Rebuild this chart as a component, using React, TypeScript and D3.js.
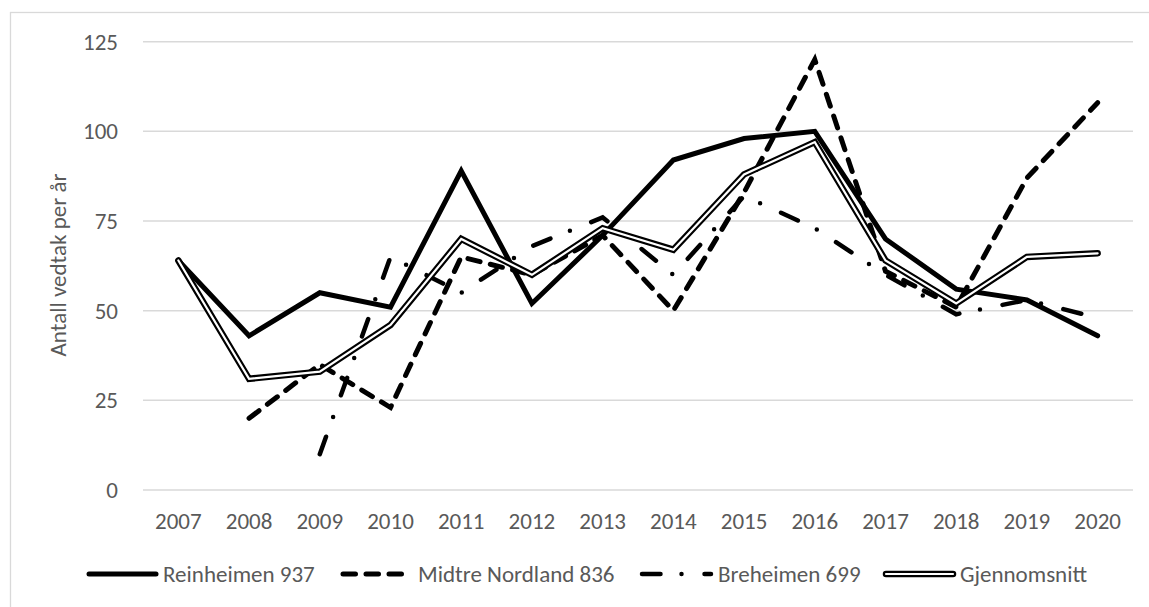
import React from 'react';
import * as d3 from 'd3';

// chart data
const years = ['2007', '2008', '2009', '2010', '2011', '2012', '2013', '2014', '2015', '2016', '2017', '2018', '2019', '2020'];
const reinheimen = [64, 43, 55, 51, 89, 52, 71, 92, 98, 100, 70, 56, 53, 43];
const midtreNordland = [null, 20, 35, 23, 65, 60, 71, 50, 83, 120, 61, 51, 87, 108];
const breheimen = [null, null, 10, 65, 55, 68, 76, 60, 82, 73, 60, 49, 53, 48];
const gjennomsnitt = [64, 31, 33, 46, 70, 60, 73, 67, 88, 97, 64, 52, 65, 66];
const yTicks = [0, 25, 50, 75, 100, 125];
const seriesNames = ['Reinheimen 937', 'Midtre Nordland 836', 'Breheimen 699', 'Gjennomsnitt'];
const yTitle = 'Antall vedtak per år';

const FONT = 'Carlito, Calibri, Lato, sans-serif';
const TEXT = '#595959';
const GRID = '#d9d9d9';
const FS = 23;

// line styles per series
const styles = [
  { kind: 'solid', width: 5, dash: null },
  { kind: 'solid', width: 5, dash: '12.5,10.5' },
  { kind: 'solid', width: 4.5, dash: '18.5,21,0,23' },
  { kind: 'double', width: 6.5, dash: null },
];

function App() {
  const width = 1149;
  const height = 607;

  const x = d3.scaleBand<string>().domain(years).range([143, 1133]);
  const y = d3.scaleLinear().domain([0, 125]).range([490, 41.7]);

  const data = [reinheimen, midtreNordland, breheimen, gjennomsnitt];

  const line = d3.line<number | null>()
    .defined(d => d != null)
    .x((d, i) => (x(years[i]) as number) + x.bandwidth() / 2)
    .y(d => y(d as number));

  const paths = data.map((s, i) => {
    const st = styles[i];
    const dPath = line(s) || '';
    if (st.kind === 'double') {
      return (
        <g key={i}>
          <path d={dPath} fill="none" stroke="#000" strokeWidth={st.width} strokeLinecap="round" strokeLinejoin="miter" />
          <path d={dPath} fill="none" stroke="#fff" strokeWidth={2.2} strokeLinecap="round" strokeLinejoin="miter" />
        </g>
      );
    }
    return (
      <path key={i} d={dPath} fill="none" stroke="#000" strokeWidth={st.width}
        strokeDasharray={st.dash || undefined} strokeLinecap="round" strokeLinejoin="miter" />
    );
  });

  // legend layout
  const legendY = 574;
  const legendItems = [
    { x0: 89, x1: 156, tx: 163 },
    { x0: 343, x1: 405, tx: 418 },
    { x0: 642, x1: 711, tx: 718 },
    { x0: 886, x1: 953, tx: 960 },
  ];

  const legend = seriesNames.map((name, i) => {
    const st = styles[i];
    const it = legendItems[i];
    const p = `M${it.x0},${legendY}L${it.x1},${legendY}`;
    return (
      <g key={name}>
        {st.kind === 'double' ? (
          <g>
            <path d={p} stroke="#000" strokeWidth={st.width} strokeLinecap="round" />
            <path d={p} stroke="#fff" strokeWidth={2.2} strokeLinecap="round" />
          </g>
        ) : (
          <path d={p} stroke="#000" strokeWidth={st.width} strokeDasharray={st.dash || undefined} strokeLinecap="round" />
        )}
        <text x={it.tx} y={legendY} dominantBaseline="central" fill={TEXT} fontSize={FS} fontFamily={FONT}>{name}</text>
      </g>
    );
  });

  return (
    <svg width={width} height={height} style={{ position: 'absolute', left: 0, top: 0, background: '#fff' }}>
      <rect x={10.5} y={12.5} width={1160} height={620} fill="#fff" stroke={GRID} strokeWidth={1.3} />
      {yTicks.map(t => (
        <g key={t}>
          <line x1={143} x2={1133} y1={y(t)} y2={y(t)} stroke={GRID} strokeWidth={1.5} />
          <text x={118} y={y(t)} textAnchor="end" dominantBaseline="central" fill={TEXT} fontSize={FS} fontFamily={FONT}>{t}</text>
        </g>
      ))}
      {years.map(yr => (
        <text key={yr} x={(x(yr) as number) + x.bandwidth() / 2} y={521} textAnchor="middle" dominantBaseline="central"
          fill={TEXT} fontSize={FS} fontFamily={FONT}>{yr}</text>
      ))}
      <text transform="translate(58,265) rotate(-90)" textAnchor="middle" dominantBaseline="central"
        fill={TEXT} fontSize={FS} fontFamily={FONT}>{yTitle}</text>
      {paths}
      {legend}
    </svg>
  );
}

export default App;
